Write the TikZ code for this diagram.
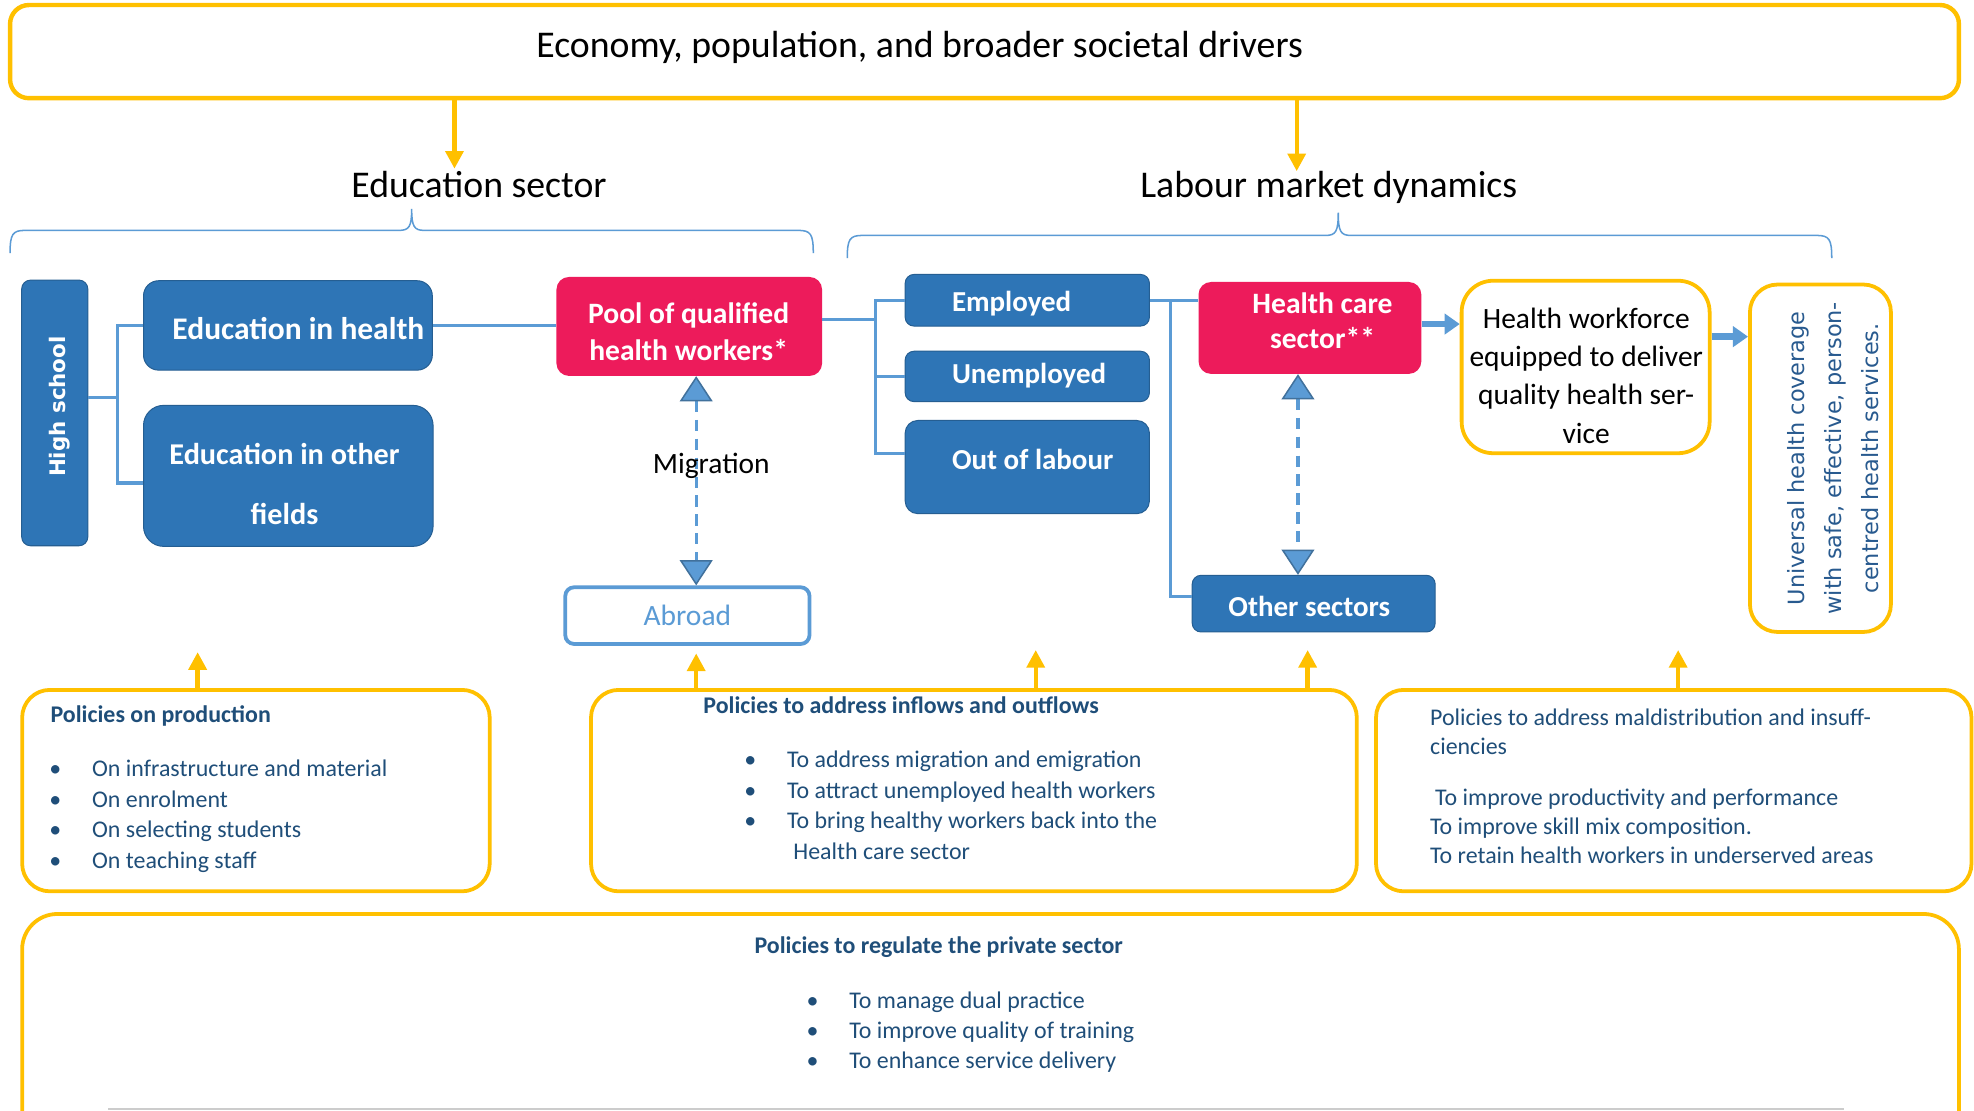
\documentclass[tikz,border=0pt]{standalone}
\usepackage{fontspec}
\setmainfont{Carlito}
\newfontfamily\verdfont{DejaVu Sans}
\usetikzlibrary{arrows.meta}
\definecolor{ylw}{HTML}{FFC000}
\definecolor{bluebox}{HTML}{2E75B6}
\definecolor{lblue}{HTML}{5B9BD5}
\definecolor{tipblue}{HTML}{41719C}
\definecolor{redbox}{HTML}{ED1B5B}
\definecolor{dblue}{HTML}{1F4E79}
\definecolor{uhcblue}{HTML}{285A8F}
\newcommand{\pbul}{\makebox[34pt][l]{\textbullet}}
\begin{document}
\begin{tikzpicture}[x=1pt,y=-1pt,
  ybox/.style={draw=ylw, line width=3pt, rounded corners=22pt, inner sep=0pt},
  bbox/.style={draw=bluebox!80!black, line width=0.8pt, fill=bluebox, inner sep=0pt},
  rbox/.style={fill=redbox, rounded corners=10pt, inner sep=0pt},
  wtxt/.style={text=white, font=\fontsize{23}{28}\selectfont\bfseries, inner sep=0pt},
  btxt/.style={text=black, font=\fontsize{23.4}{30.4}\selectfont, inner sep=0pt},
  ptxt/.style={text=dblue, font=\fontsize{19}{24.2}\selectfont, anchor=base west, inner sep=0pt},
  ptitle/.style={ptxt, font=\fontsize{19}{22}\selectfont\bfseries},
  conn/.style={draw=lblue, line width=2.5pt},
  brace/.style={draw=lblue, line width=1.2pt},
  yarrow/.style={draw=ylw, line width=3.5pt, -{Triangle[width=14pt,length=14pt]}},
  migr/.style={draw=lblue, line width=2.5pt, dash pattern=on 9pt off 6pt,
    {Triangle[width=26pt,length=20pt,fill=lblue,color=tipblue,line width=1.2pt]}-{Triangle[width=26pt,length=20pt,fill=lblue,color=tipblue,line width=1.2pt]}},
  barrow/.style={draw=lblue, line width=5pt, -{Triangle[width=16pt,length=12pt]}},
]
\useasboundingbox (0,0) rectangle (1568,882);
\clip (0,0) rectangle (1568,882);
\fill[white] (0,0) rectangle (1568,882);

% top
\node[ybox, rounded corners=15pt, line width=3.5pt, minimum width=1548pt, minimum height=74pt] (top) at (782,41) {};
\node[btxt, anchor=base, font=\fontsize{30}{34}\selectfont] (toptxt) at (730.5,45.6) {Economy, population, and broader societal drivers};
\node[btxt, anchor=base, font=\fontsize{30}{34}\selectfont] (edsec) at (380.5,157) {Education sector};
\node[btxt, anchor=base, font=\fontsize{30}{34}\selectfont] (labsec) at (1055.5,157) {Labour market dynamics};
\coordinate (a1) at (361,134);
\coordinate (a2) at (1030,136);
\draw[yarrow] (top.south -| a1) -- (a1);
\draw[yarrow] (top.south -| a2) -- (a2);

% braces
\draw[brace] (8,201) .. controls (8,186) and (10,183) .. (20,183) -- (317,183) .. controls (325,183) and (327,180) .. (327,166) .. controls (327,180) and (329,183) .. (337,183) -- (634,183) .. controls (644,183) and (646,186) .. (646,201);
\draw[brace] (673,205) .. controls (673,190) and (675,187) .. (685,187) -- (1053,187) .. controls (1061,187) and (1063,184) .. (1063,169) .. controls (1063,184) and (1065,187) .. (1073,187) -- (1443,187) .. controls (1453,187) and (1455,190) .. (1455,205);

% education side
\node[bbox, rounded corners=7pt, minimum width=52.5pt, minimum height=211pt] (hs) at (43.5,328) {};
\node[rotate=90, anchor=base, text=white, font=\verdfont\fontsize{17}{20}\selectfont\bfseries, inner sep=0pt] (hstxt) at (51.7,323) {High school};
\node[bbox, rounded corners=12pt, minimum width=229.4pt, minimum height=71pt] (eh) at (228.7,258.5) {};
\node[wtxt, anchor=base, font=\fontsize{25}{30}\selectfont\bfseries] (ehtxt) at (237,270) {Education in health};
\node[bbox, rounded corners=16pt, minimum width=230pt, minimum height=112pt] (eo) at (229,378) {};
\node[wtxt, anchor=base, align=center, font=\fontsize{24}{48.4}\selectfont\bfseries] (eotxt) at (226,417) {Education in other\\fields};
\node[rbox, minimum width=211pt, minimum height=78.6pt] (pool) at (547.5,259.3) {};
\node[wtxt, anchor=base, align=center, font=\fontsize{23.5}{29.2}\selectfont\bfseries] (pooltxt) at (547,286) {Pool of qualified\\health workers*};
\node[draw=lblue, line width=3pt, fill=white, rounded corners=7pt, minimum width=194pt, minimum height=45pt, text=lblue, font=\fontsize{23.4}{26}\selectfont, inner sep=0pt] (abroad) at (546,489) {Abroad};

\coordinate (hsb) at (93.5,315.5);
\coordinate (hsbt) at (93.5,383.7);
\draw[conn] (hs.east |- hsb) -- (hsb);
\draw[conn] (eh.west) -| (hsbt) -- (eo.west |- hsbt);
\draw[conn] (eh.east) -- (pool.west |- eh.east);

\coordinate (mx) at (553,0);
\draw[migr] (pool.south -| mx) -- (abroad.north -| mx);
\node[btxt, anchor=base] (migtxt) at (565,376) {Migration};

% labour side
\node[bbox, rounded corners=7pt, minimum width=194pt, minimum height=41pt] (emp) at (816,238.5) {};
\node[wtxt, anchor=base west] (emptxt) at (756,247.6) {Employed};
\node[bbox, rounded corners=7pt, minimum width=194pt, minimum height=40pt] (unemp) at (816,299) {};
\node[wtxt, anchor=base west] (unemptxt) at (756,304.5) {Unemployed};
\node[bbox, rounded corners=10pt, minimum width=194pt, minimum height=74pt] (ool) at (816,371) {};
\node[wtxt, anchor=base west] (ooltxt) at (756,373) {Out of labour};
\node[rbox, rounded corners=10pt, minimum width=177pt, minimum height=73pt] (hc) at (1040.5,260.5) {};
\node[wtxt, anchor=base, align=center, font=\fontsize{23.5}{27.8}\selectfont\bfseries] (hctxt) at (1050.5,276.7) {Health care\\sector**};
\node[bbox, rounded corners=7pt, minimum width=193pt, minimum height=45pt] (oth) at (1043.5,479.5) {};
\node[wtxt, anchor=base] (othtxt) at (1040,489.8) {Other sectors};
\node[ybox, rounded corners=25pt, minimum width=197pt, minimum height=137pt] (hw) at (1259.5,291.5) {};
\node[btxt, anchor=base, align=center] (hwtxt) at (1260,352) {Health workforce\\equipped to deliver\\quality health ser-\\vice};
\node[ybox, rounded corners=22pt, minimum width=112pt, minimum height=276pt] (uhc) at (1446,364) {};
\node[rotate=90, anchor=base, align=center, text=uhcblue, font=\verdfont\fontsize{17.8}{29.5}\selectfont, inner sep=0pt] (uhctxt) at (1492.5,364) {Universal health coverage\\with safe, effective, person-\\centred health services.};

\coordinate (pj) at (695.5,254);
\coordinate (pjb) at (695.5,360);
\draw[conn] (pool.east |- pj) -- (pj);
\draw[conn] (emp.west) -| (pjb) -- (ool.west |- pjb);
\draw[conn] (unemp.west) -- (unemp.west -| pj);
\draw[conn] (emp.east) -- (hc.west |- emp.east);
\coordinate (ej) at (930,474);
\draw[conn] (emp.east -| ej) -- (ej) -- (oth.west |- ej);
\coordinate (hx) at (1031,0);
\draw[migr] (hc.south -| hx) -- (oth.north -| hx);
\coordinate (hcy) at (0,257.4);
\coordinate (hwy) at (0,267.4);
\draw[barrow] (hc.east |- hcy) -- (hw.west |- hcy);
\draw[barrow] (hw.east |- hwy) -- (uhc.west |- hwy);

% policies
\node[ybox, minimum width=371.4pt, minimum height=160pt] (pprod) at (203.3,628) {};
\node[ybox, minimum width=608.3pt, minimum height=160pt] (pinf) at (773.6,628) {};
\node[ybox, minimum width=473pt, minimum height=160pt] (pmal) at (1329.5,628) {};
\node[ybox, rounded corners=28pt, minimum width=1538.4pt, minimum height=208pt] (ppriv) at (786.8,830) {};

\coordinate (u1) at (157,518);
\coordinate (u2) at (553,519);
\coordinate (u3) at (822.7,516.3);
\coordinate (u4) at (1038.7,516.3);
\coordinate (u5) at (1333,516.3);
\draw[yarrow] (pprod.north -| u1) -- (u1);
\draw[yarrow] (pinf.north -| u2) -- (u2);
\draw[yarrow] (pinf.north -| u3) -- (u3);
\draw[yarrow] (pinf.north -| u4) -- (u4);
\draw[yarrow] (pmal.north -| u5) -- (u5);

\node[ptitle] (pprodt) at (40,574) {Policies on production};
\node[ptxt, align=left] (pprodl) at (39,689.6) {\pbul On infrastructure and material\\\pbul On enrolment\\\pbul On selecting students\\\pbul On teaching staff};
\node[ptitle] (pinft) at (558.6,566.5) {Policies to address inflows and outflows};
\node[ptxt, align=left] (pinfl) at (591,682.4) {\pbul To address migration and emigration\\\pbul To attract unemployed health workers\\\pbul To bring healthy workers back into the\\\hspace*{39pt}Health care sector};
\node[ptxt, align=left, font=\fontsize{19}{23}\selectfont] (pmall) at (1135.8,685.6) {Policies to address maldistribution and insuff-\\ciencies\\[17pt]\hspace*{4pt}To improve productivity and performance\\To improve skill mix composition.\\To retain health workers in underserved areas};
\node[ptitle] (pprivt) at (599.2,757) {Policies to regulate the private sector};
\node[ptxt, align=left, font=\fontsize{19}{23.8}\selectfont] (pprivl) at (640.5,848.5) {\pbul To manage dual practice\\\pbul To improve quality of training\\\pbul To enhance service delivery};
\draw[black!20, line width=1.2pt] (86,881) -- (1465,881);
\end{tikzpicture}
\end{document}
